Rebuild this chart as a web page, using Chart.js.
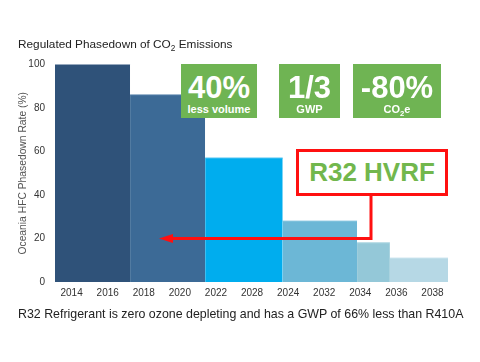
<!DOCTYPE html>
<html lang="en">
<head>
  <meta charset="UTF-8">
  <title>Regulated Phasedown of CO2 Emissions</title>
  <script src="https://cdn.jsdelivr.net/npm/chart.js"></script>
  <style>
    body {
      margin: 0;
      background: #ffffff;
      font-family: 'Liberation Sans', Arial, sans-serif;
    }

    .wrap {
      position: relative;
      width: 480px;
      height: 362px;
      overflow: hidden;
    }

    #chart {
      position: absolute;
      left: 0;
      top: 0;
    }

    .title {
      position: absolute;
      left: 18px;
      top: 37px;
      font-size: 11.8px;
      color: #222;
      white-space: nowrap;
    }

    .footer {
      position: absolute;
      left: 18px;
      top: 307px;
      font-size: 12.4px;
      color: #222;
      white-space: nowrap;
    }

    sub {
      font-size: 0.7em;
      line-height: 0;
    }

    .badge {
      position: absolute;
      top: 64px;
      height: 54px;
      background: #6fb453;
      color: #fff;
      font-weight: bold;
      text-align: center;
    }

    .badge .big {
      font-size: 31px;
      line-height: 31px;
      margin-top: 8px;
    }

    .badge .small {
      font-size: 11px;
      line-height: 12px;
    }

    .callout {
      position: absolute;
      left: 296px;
      top: 149px;
      width: 146px;
      height: 41px;
      border: 3px solid #ff1010;
      background: #fff;
      color: #72b74d;
      font-weight: bold;
      font-size: 26px;
      line-height: 41px;
      text-align: center;
    }

    svg {
      position: absolute;
      left: 0;
      top: 0;
    }
  </style>
</head>
<body>
<div class="wrap">
  <canvas id="chart" width="480" height="362"></canvas>

  <div class="title">Regulated Phasedown of CO<sub>2</sub> Emissions</div>

  <div class="badge" style="left:181px; width:76px;">
    <div class="big">40%</div>
    <div class="small">less volume</div>
  </div>
  <div class="badge" style="left:279px; width:61px;">
    <div class="big">1/3</div>
    <div class="small">GWP</div>
  </div>
  <div class="badge" style="left:353px; width:88px;">
    <div class="big">-80%</div>
    <div class="small">CO<sub>2</sub>e</div>
  </div>

  <svg width="480" height="362">
    <polyline points="371,195 371,238.5 170,238.5" fill="none" stroke="#ff1010" stroke-width="3"/>
    <polygon points="159,238.5 173,234 173,243" fill="#ff1010"/>
  </svg>

  <div class="callout">R32 HVRF</div>

  <div class="footer">R32 Refrigerant is zero ozone depleting and has a GWP of 66% less than R410A</div>
</div>

<script>
  // tick labels as printed under the axis
  const xLabels = ['2014', '2016', '2018', '2020', '2022', '2028', '2024', '2032', '2034', '2036', '2038'];

  // each step runs from stepStart to stepEnd (tick index units)
  const stepStart = [-0.46, 1.62, 3.70, 5.85, 7.91, 8.82];
  const stepEnd = [1.62, 3.70, 5.85, 7.91, 8.82, 10.43];
  const stepValue = [100, 86, 57, 28, 18, 11];

  const stepColors = ['#2f5279', '#3c6a96', '#00adee', '#6cb7d6', '#94c8d8', '#b6d8e5'];
  const stepEdges = ['#4a6a90', '#5581aa', '#4cc4f2', '#8ac7e0', '#acd5e1', '#cbe4ee'];

  const datasets = stepValue.map((v, i) => ({
    data: [{ x: stepStart[i], y: v }, { x: stepEnd[i], y: v }],
    backgroundColor: stepColors[i],
    borderColor: stepEdges[i],
    borderWidth: 1,
    fill: 'origin',
    pointRadius: 0,
    tension: 0
  }));

  new Chart(document.getElementById('chart'), {
    type: 'line',
    data: { datasets: datasets },
    options: {
      responsive: false,
      animation: false,
      layout: {
        padding: { left: 0, right: 32, top: 64.5, bottom: 60 }
      },
      plugins: {
        legend: { display: false },
        tooltip: { enabled: false }
      },
      scales: {
        x: {
          type: 'linear',
          min: -0.46,
          max: 10.43,
          grid: { display: false, drawTicks: false },
          border: { display: false },
          afterBuildTicks: (scale) => {
            scale.ticks = xLabels.map((_, i) => ({ value: i }));
          },
          afterFit: (scale) => { scale.height = 20; },
          ticks: {
            padding: 5,
            maxRotation: 0,
            autoSkip: false,
            color: '#333',
            font: { family: "'Liberation Sans', Arial, sans-serif", size: 10 },
            callback: (value) => xLabels[value]
          }
        },
        y: {
          min: 0,
          max: 100,
          grid: { display: false, drawTicks: false },
          border: { display: false },
          afterFit: (scale) => { scale.width = 55; },
          ticks: {
            stepSize: 20,
            padding: 10,
            color: '#333',
            font: { family: "'Liberation Sans', Arial, sans-serif", size: 10 }
          },
          title: {
            display: true,
            text: 'Oceania HFC Phasedown Rate (%)',
            color: '#555',
            padding: { top: 17, bottom: 0 },
            font: { family: "'Liberation Sans', Arial, sans-serif", size: 10.3 }
          }
        }
      }
    }
  });
</script>
</body>
</html>
